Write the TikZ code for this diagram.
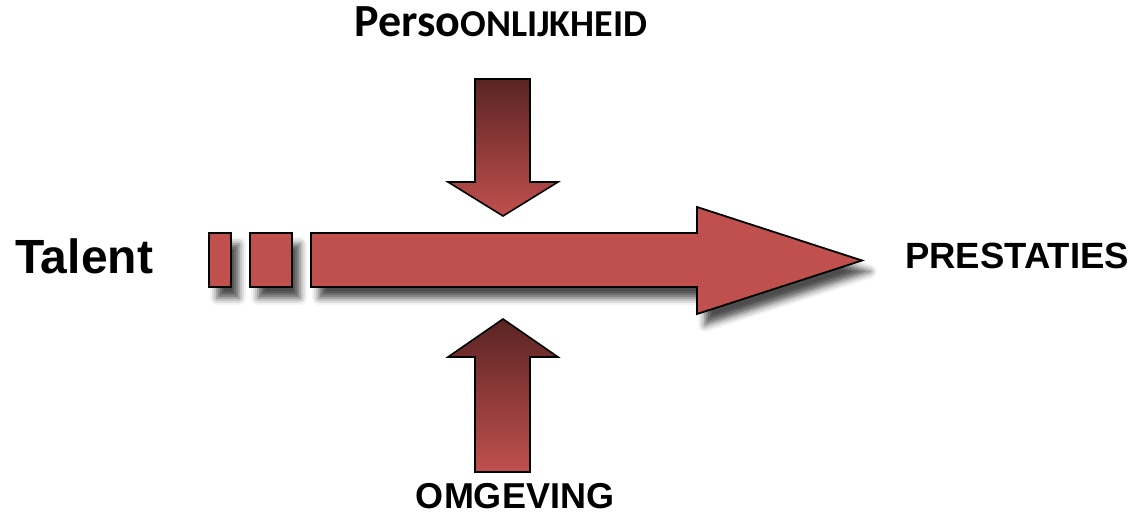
\documentclass[tikz,border=0pt]{standalone}
\usepackage{fontspec}
\setmainfont{Liberation Sans}
\newfontfamily\calibrifont{Carlito}
\usetikzlibrary{shadows.blur}
\definecolor{arrowred}{HTML}{C0504D}
\definecolor{arrowdark}{HTML}{5A2424}

\begin{document}
\begin{tikzpicture}[x=1pt,y=-1pt,
  redshape/.style={fill=arrowred,draw=black,line width=1.8pt,
    blur shadow={shadow xshift=8pt,shadow yshift=-11pt,
      shadow blur radius=7pt,shadow opacity=70}},
  forcearrow/.style={top color=arrowdark,bottom color=arrowred,
    draw=black,line width=1.6pt},
  label/.style={anchor=base,inner sep=0pt,font=\bfseries}]
\useasboundingbox (0,0) rectangle (1132,516);
% blokjes voor de pijl
\draw[redshape] (209,233) rectangle (231,287);
\draw[redshape] (250,233) rectangle (292,287);
% hoofdpijl
\draw[redshape] (311,233) -- (697,233) -- (697,207) -- (862,260.5)
  -- (697,314) -- (697,287) -- (311,287) -- cycle;
% pijl van boven
\draw[forcearrow] (475,79) -- (530,79) -- (530,182) -- (558,182)
  -- (503,216) -- (448,182) -- (475,182) -- cycle;
% pijl van onder
\draw[forcearrow] (503,319) -- (558,357) -- (530,357) -- (530,472)
  -- (475,472) -- (475,357) -- (448,357) -- cycle;
% teksten
\node[label,anchor=base west,font=\bfseries\fontsize{48}{50}\selectfont] (talent) at (15,273) {Talent};
\node[label,anchor=base west,font=\bfseries\fontsize{36.5}{39}\selectfont] (prestaties) at (905,268) {PRESTATIES};
\node[label,font=\bfseries\fontsize{36}{39}\selectfont] (omgeving) at (515,508) {OMGEVING};
\node[label,font=\calibrifont\bfseries] (persoonlijkheid) at (501,37)
  {{\fontsize{46}{48}\selectfont Perso}{\fontsize{38}{40}\selectfont ONLIJKHEID}};
\end{tikzpicture}
\end{document}
